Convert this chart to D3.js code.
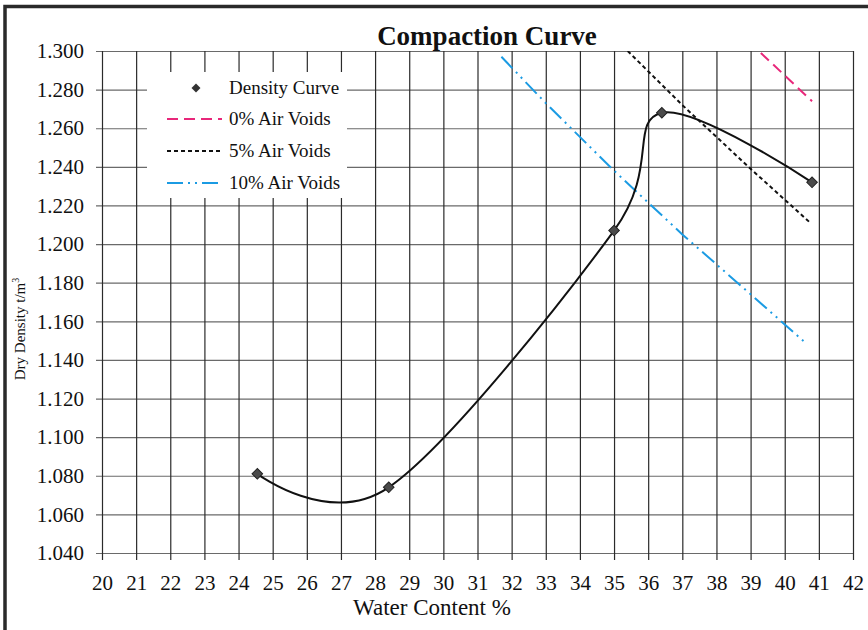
<!DOCTYPE html>
<html>
<head>
<meta charset="utf-8">
<script src="https://cdnjs.cloudflare.com/ajax/libs/d3/7.8.5/d3.min.js"></script>
<style>
    body { margin: 0; background: #fff; }
    text { font-family: "Liberation Serif", "Times New Roman", serif; fill: #111; }
</style>
</head>
<body>
<div id="chart"></div>
<script>
// density test points
var waterContent = [24.55, 28.4, 35.0, 36.4, 40.8];
var dryDensity = [1.081, 1.074, 1.207, 1.268, 1.232];

// air voids lines
var voids0W = [39.3, 40.8];
var voids0D = [1.299, 1.274];
var voids5W = [35.4, 37.0, 39.0, 40.75];
var voids5D = [1.300, 1.272, 1.239, 1.211];
var voids10W = [31.7, 33.0, 35.0, 37.0, 39.0, 40.6];
var voids10D = [1.297, 1.273, 1.238, 1.205, 1.174, 1.149];

var xTicks = [20, 21, 22, 23, 24, 25, 26, 27, 28, 29, 30, 31, 32, 33, 34, 35, 36, 37, 38, 39, 40, 41, 42];
var yTicks = [1.04, 1.06, 1.08, 1.10, 1.12, 1.14, 1.16, 1.18, 1.20, 1.22, 1.24, 1.26, 1.28, 1.30];

var legendNames = ['Density Curve', '0% Air Voids', '5% Air Voids', '10% Air Voids'];

var width = 868, height = 630;
var plotLeft = 102, plotRight = 853, plotTop = 51, plotBottom = 553;

var svg = d3.select('#chart')
    .append('svg')
    .attr('width', width)
    .attr('height', height);

var x = d3.scaleLinear().domain([20, 42]).range([plotLeft, plotRight]);
var y = d3.scaleLinear().domain([1.04, 1.30]).range([plotBottom, plotTop]);

// outer frame (only top and left show in the scan)
svg.append('path')
    .attr('d', 'M5,' + height + 'V6.5H' + width)
    .attr('fill', 'none')
    .attr('stroke', '#2a2a2a')
    .attr('stroke-width', 3.5);

// horizontal grid + y labels
var yAxis = svg.append('g')
    .attr('transform', 'translate(96,0)')
    .call(d3.axisLeft(y)
        .tickValues(yTicks)
        .tickFormat(d3.format('.3f'))
        .tickSizeInner(-(plotRight - 96))
        .tickSizeOuter(0)
        .tickPadding(12));
yAxis.select('.domain').remove();
yAxis.selectAll('line').attr('stroke', '#6a6a6a').attr('stroke-width', 1.2);
yAxis.selectAll('text')
    .style('font-family', '"Liberation Serif", serif')
    .style('font-size', '21px')
    .attr('fill', '#111');

// vertical grid + x labels
var xAxis = svg.append('g')
    .attr('transform', 'translate(0,560)')
    .call(d3.axisBottom(x)
        .tickValues(xTicks)
        .tickFormat(d3.format('d'))
        .tickSizeInner(-(560 - plotTop))
        .tickSizeOuter(0)
        .tickPadding(15));
xAxis.select('.domain').remove();
xAxis.selectAll('line').attr('stroke', '#2b2b2b').attr('stroke-width', 1.2);
xAxis.selectAll('text')
    .style('font-family', '"Liberation Serif", serif')
    .style('font-size', '21px')
    .attr('fill', '#111');

// legend box hides the grid behind it
svg.append('rect')
    .attr('x', 147).attr('y', 72)
    .attr('width', 200).attr('height', 126)
    .attr('fill', '#fff');

svg.append('clipPath')
    .attr('id', 'plotClip')
    .append('rect')
    .attr('x', plotLeft).attr('y', plotTop)
    .attr('width', plotRight - plotLeft).attr('height', plotBottom - plotTop);

var line = d3.line()
    .x(function (d) { return x(d[0]); })
    .y(function (d) { return y(d[1]); });

var voidStyles = [
    { w: voids0W, d: voids0D, color: '#e8277a', dash: '11,6' },
    { w: voids5W, d: voids5D, color: '#111', dash: '4,3' },
    { w: voids10W, d: voids10D, color: '#1b9be3', dash: '16,5,2,5,2,5' }
];

svg.append('g')
    .attr('clip-path', 'url(#plotClip)')
    .selectAll('path')
    .data(voidStyles).enter()
    .append('path')
    .attr('d', function (s) { return line(s.w.map(function (w, i) { return [w, s.d[i]]; })); })
    .attr('fill', 'none')
    .attr('stroke', function (s) { return s.color; })
    .attr('stroke-width', 2)
    .attr('stroke-dasharray', function (s) { return s.dash; });

// smoothed density curve
var points = waterContent.map(function (w, i) { return [w, dryDensity[i]]; });

svg.append('path')
    .attr('d', line.curve(d3.curveCardinal.tension(0))(points))
    .attr('fill', 'none')
    .attr('stroke', '#111')
    .attr('stroke-width', 2);

var diamond = d3.symbol().type(d3.symbolSquare).size(56);

svg.selectAll('.pt')
    .data(points).enter()
    .append('path')
    .attr('class', 'pt')
    .attr('d', diamond)
    .attr('transform', function (d) { return 'translate(' + x(d[0]) + ',' + y(d[1]) + ') rotate(45)'; })
    .attr('fill', '#4a4a4a')
    .attr('stroke', '#222')
    .attr('stroke-width', 1);

// legend
var legend = svg.append('g');
var legendY = [88, 119, 151, 183];

legend.append('path')
    .attr('d', d3.symbol().type(d3.symbolSquare).size(40))
    .attr('transform', 'translate(196,' + legendY[0] + ') rotate(45)')
    .attr('fill', '#333');

legend.selectAll('.lg')
    .data(voidStyles).enter()
    .append('line')
    .attr('class', 'lg')
    .attr('x1', 167).attr('x2', 222)
    .attr('y1', function (s, i) { return legendY[i + 1]; })
    .attr('y2', function (s, i) { return legendY[i + 1]; })
    .attr('stroke', function (s) { return s.color; })
    .attr('stroke-width', 2)
    .attr('stroke-dasharray', function (s) { return s.dash; });

legend.selectAll('text')
    .data(legendNames).enter()
    .append('text')
    .attr('x', 229)
    .attr('y', function (d, i) { return legendY[i] + 6; })
    .style('font-size', '19px')
    .text(function (d) { return d; });

// titles
svg.append('text')
    .attr('x', 487).attr('y', 45)
    .attr('text-anchor', 'middle')
    .style('font-size', '27px')
    .style('font-weight', 'bold')
    .text('Compaction Curve');

svg.append('text')
    .attr('x', 432).attr('y', 615)
    .attr('text-anchor', 'middle')
    .style('font-size', '23px')
    .text('Water Content %');

var yLabel = svg.append('text')
    .attr('transform', 'translate(25,329) rotate(-90)')
    .attr('text-anchor', 'middle')
    .style('font-size', '15px');
yLabel.append('tspan').text('Dry Density t/m');
yLabel.append('tspan').attr('dy', -6).style('font-size', '10px').text('3');
</script>
</body>
</html>
